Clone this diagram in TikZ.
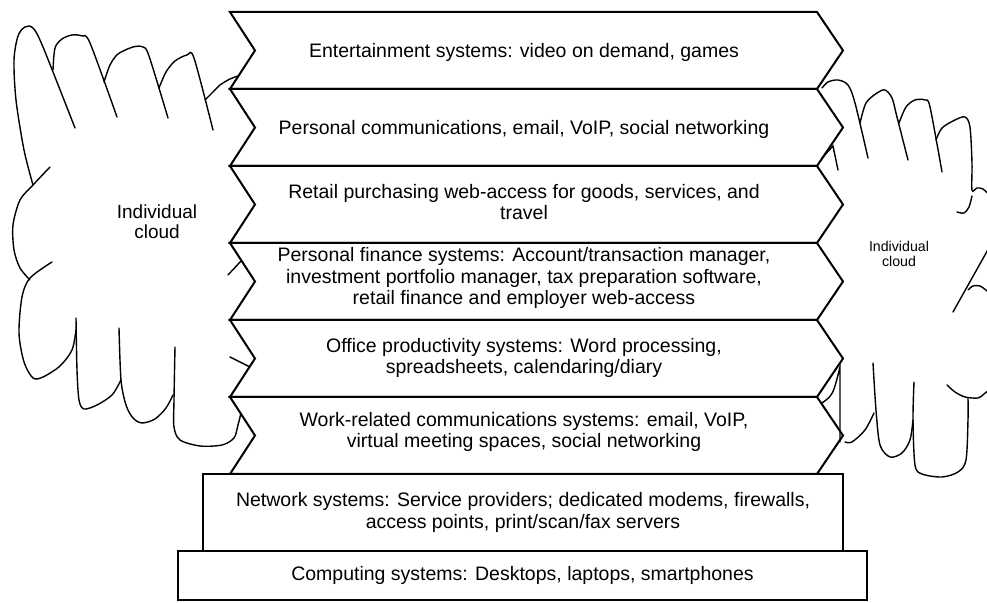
\documentclass[tikz,border=0pt]{standalone}
\usepackage{fontspec}
\setmainfont{Liberation Sans}
\usepackage{tikz}
\usetikzlibrary{calc}
\tikzstyle{layer}=[draw=black, fill=white, line width=1pt, line join=miter]
\tikzstyle{box}=[rectangle, draw=black, fill=white, line width=0.9pt, inner sep=0pt, anchor=center, align=center, font=\fontsize{9.75}{10.85}\selectfont]
\tikzstyle{annot}=[align=center, inner sep=0pt, font=\fontsize{9.75}{10.85}\selectfont]
\tikzstyle{puff}=[draw=black, line width=0.7pt, line cap=round]
\newcommand{\drawlayer}[4]
{
  \draw[layer] (230,#2) -- (817,#2) -- (843,#2+38.5) -- (817,#2+77) -- (230,#2+77) -- (255,#2+38.5) -- cycle;
  \node[annot] (#1) at (524,#2+#3) {#4};
}
\begin{document}
\begin{tikzpicture}[x=0.5pt, y=-0.5pt]
	\useasboundingbox (0,0) rectangle (987,603);

	% left cloud
	\draw[puff] plot[smooth] coordinates {(75,128) (43,47) (33,28) (25,27) (18,36) (14,60) (16,100) (24,150) (33,185)};
	\draw[puff] plot[smooth] coordinates {(53,70) (55,48) (62,39) (72,35) (82,36) (90,43) (117,117)};
	\draw[puff] plot[smooth] coordinates {(104,82) (110,65) (118,54) (133,47) (143,47) (149,56) (168,118)};
	\draw[puff] plot[smooth] coordinates {(159,88) (166,72) (175,61) (187,55) (194,58) (213,130)};
	\draw[puff] plot[smooth] coordinates {(205,100) (213,92) (220,85) (230,79) (241,75)};
	\draw[puff] plot[smooth] coordinates {(50,167) (33,185) (20,200) (13,225) (14,250) (20,268) (30,280)};
	\draw[puff] plot[smooth] coordinates {(52,262) (30,278) (22,297) (19,333) (24,362) (33,378) (43,377) (60,366) (72,350) (76,330)};
	\draw[puff] plot[smooth] coordinates {(76,318) (77,370) (79,400) (84,409) (97,405) (112,395) (121,380)};
	\draw[puff] plot[smooth] coordinates {(119,328) (121,380) (126,405) (133,418) (142,423) (155,419) (166,408) (173,395)};
	\draw[puff] plot[smooth] coordinates {(175,347) (174,400) (174,427) (180,440) (200,446) (222,445) (234,438) (238,425) (241,413)};
	\draw[puff] (228,275) -- (241,261);
	\draw[puff] (230,357) -- (250,367);
	\node[annot, font=\fontsize{9.5}{10}\selectfont] (lcloud) at (157,222) {Individual\\cloud};

	\drawlayer{entertain}{12}{40}{Entertainment systems: video on demand, games}
	\drawlayer{personal}{89}{40}{Personal communications, email, VoIP, social networking}
	\drawlayer{retail}{166}{36}{Retail purchasing web-access for goods, services, and\\travel}
	\drawlayer{finance}{243}{35}{Personal finance systems: Account/transaction manager,\\investment portfolio manager, tax preparation software,\\retail finance and employer web-access}
	\drawlayer{office}{320}{38}{Office productivity systems: Word processing,\\spreadsheets, calendaring/diary}
	\drawlayer{workcomm}{397}{35}{Work-related communications systems: email, VoIP,\\virtual meeting spaces, social networking}

	\node[box, minimum width=320pt, minimum height=38.5pt] (network) at (523,512.5) {Network systems: Service providers; dedicated modems, firewalls,\\access points, print/scan/fax servers};
	\node[box, minimum width=344.5pt, minimum height=24.5pt] (computing) at (522.5,575.5) {Computing systems: Desktops, laptops, smartphones};

	% right cloud
	\draw[puff] plot[smooth] coordinates {(822,88) (828,82) (838,80) (848,85) (855,103) (868,158)};
	\draw[puff] plot[smooth] coordinates {(860,123) (866,103) (877,93) (885,90) (892,98) (897,117) (908,160)};
	\draw[puff] plot[smooth] coordinates {(899,123) (906,107) (915,100) (925,100) (930,107) (942,172)};
	\draw[puff] plot[smooth] coordinates {(936,140) (942,128) (955,120) (965,117) (970,127) (972,163) (972,190) (977,188) (983,189) (990,196)};
	\draw[puff] plot[smooth] coordinates {(957,212) (964,213) (969,207) (972,196)};
	\draw[puff] (990,246) -- (953,312);
	\draw[puff] plot[smooth] coordinates {(968,290) (973,286) (980,286) (987,291) (991,295)};
	\draw[puff] plot[smooth] coordinates {(947,385) (955,392) (965,397) (978,398) (984,394) (991,388)};
	\draw[puff] plot[smooth] coordinates {(914,382) (913,420) (915,465) (922,474) (942,477) (958,472) (966,460) (968,420) (968,398)};
	\draw[puff] plot[smooth] coordinates {(873,363) (876,410) (880,445) (890,457) (902,453) (910,440) (913,420)};
	\draw[puff] plot[smooth] coordinates {(845,442) (852,442) (865,430) (874,413)};
	\draw[puff] (822,158) -- (833,146) -- (838,170);
	\draw[puff] (822,403) .. controls (833,395) .. (840,367) -- (840,442);
	\node[annot, font=\fontsize{7.1}{7.6}\selectfont] (rcloud) at (899,254) {Individual\\cloud};

\end{tikzpicture}
\end{document}
